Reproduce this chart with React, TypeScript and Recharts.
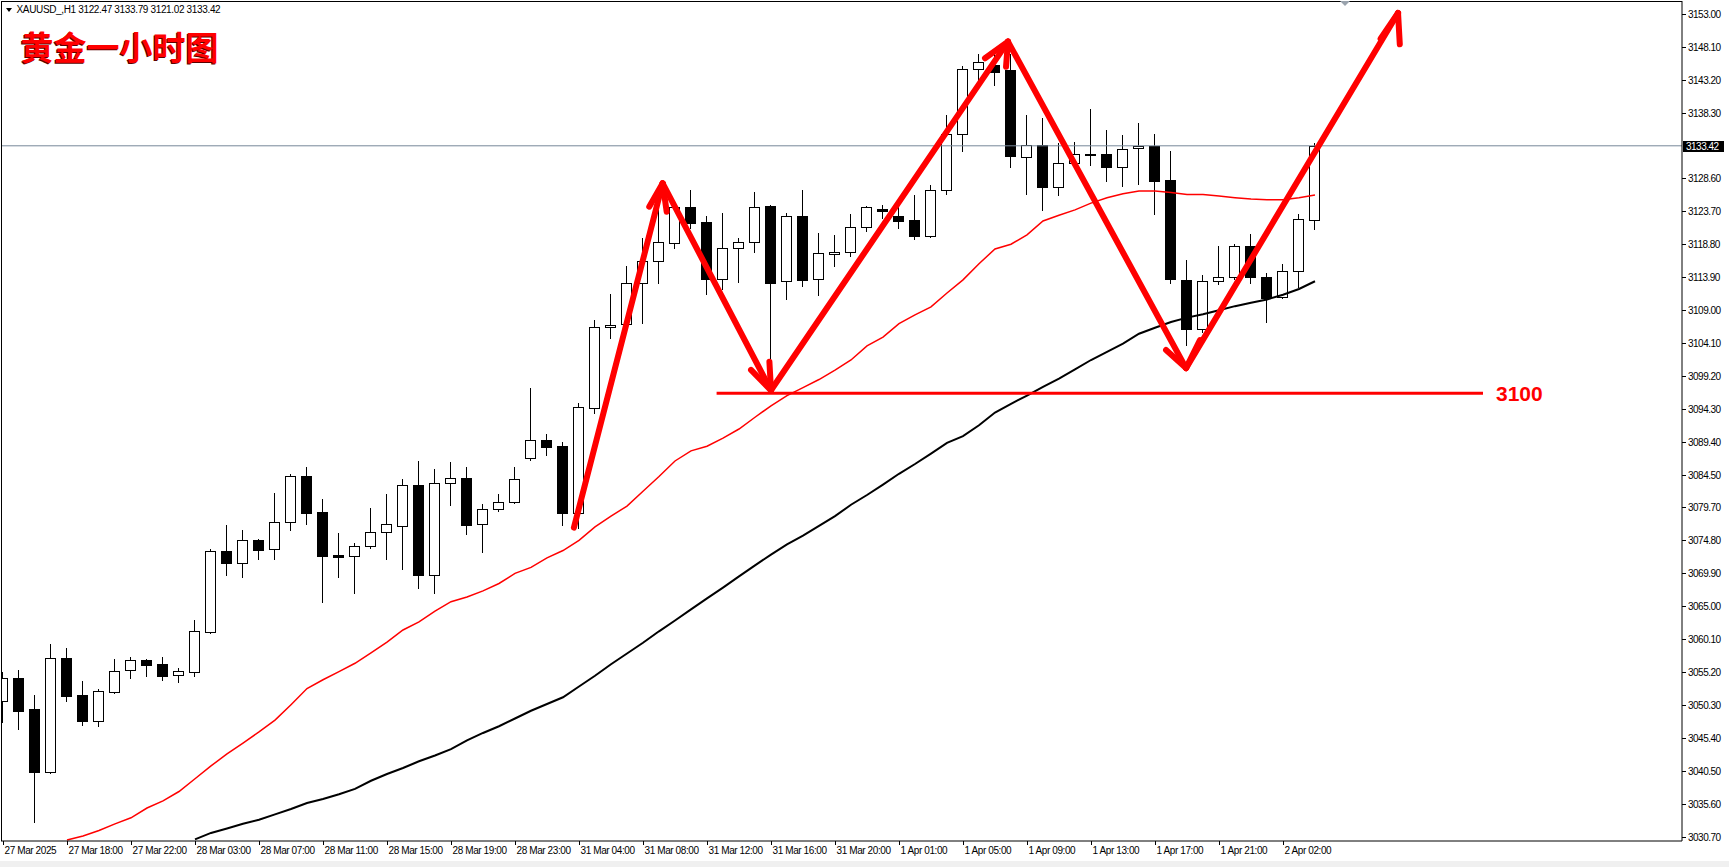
import { Bar, ComposedChart, Line, ReferenceLine, XAxis, YAxis } from 'recharts'

// XAUUSD H1, bars from 27 Mar 14:00 to 2 Apr 02:00+ (index = bar number)
const opens = [
  3051.0, 3054.3, 3049.7, 3040.4, 3057.3, 3051.8, 3048.0, 3052.3, 3055.5, 3057.0,
  3056.4, 3054.8, 3055.2, 3061.25, 3073.3, 3071.5, 3074.8, 3073.6, 3077.5, 3084.4,
  3079.0, 3072.6, 3072.5, 3073.9, 3076.0, 3077.0, 3083.0, 3069.7, 3083.4, 3084.0,
  3077.2, 3079.4, 3080.5, 3087.0, 3089.7, 3088.8, 3078.9, 3094.4, 3106.5, 3106.9,
  3113.1, 3116.3, 3119.0, 3124.4, 3122.05, 3113.6, 3118.3, 3119.2, 3124.5, 3113.3,
  3122.95, 3113.6, 3117.3, 3117.6, 3121.3, 3124.1, 3123.0, 3122.4, 3120.05, 3126.8,
  3135.1, 3144.8, 3145.4, 3144.7, 3131.8, 3133.6, 3127.25, 3130.8, 3132.1, 3132.15,
  3130.2, 3133.05, 3133.4, 3128.3, 3113.5, 3106.15, 3113.3, 3114.0, 3118.5, 3113.9,
  3110.9, 3114.75, 3122.47,
]
const highs = [
  3055.2, 3055.6, 3051.8, 3059.4, 3058.8, 3053.9, 3052.7, 3057.2, 3057.5, 3057.2,
  3057.5, 3055.8, 3063.0, 3073.5, 3077.1, 3076.4, 3075.0, 3081.85, 3084.6, 3085.7,
  3080.9, 3075.9, 3074.4, 3079.6, 3081.65, 3083.9, 3086.6, 3085.4, 3086.5, 3085.7,
  3080.2, 3081.7, 3085.7, 3097.45, 3090.6, 3089.4, 3095.2, 3107.55, 3111.4, 3115.6,
  3119.7, 3124.5, 3124.6, 3126.9, 3123.05, 3123.4, 3119.7, 3126.5, 3124.6, 3123.4,
  3126.9, 3120.4, 3120.2, 3123.3, 3124.5, 3124.6, 3124.5, 3126.1, 3127.6, 3138.0,
  3145.3, 3147.05, 3147.5, 3147.0, 3138.0, 3137.5, 3133.8, 3134.0, 3138.9, 3135.8,
  3135.0, 3136.8, 3135.1, 3132.65, 3116.45, 3114.2, 3118.5, 3118.8, 3120.3, 3114.5,
  3115.8, 3123.3, 3133.79,
]
const lows = [
  3047.9, 3046.8, 3033.0, 3040.3, 3050.9, 3047.4, 3047.3, 3052.2, 3054.4, 3054.6,
  3054.1, 3053.8, 3054.6, 3061.1, 3069.6, 3069.3, 3072.1, 3072.1, 3076.4, 3077.3,
  3065.7, 3069.3, 3067.0, 3073.7, 3072.05, 3070.5, 3067.8, 3067.0, 3080.1, 3075.8,
  3073.1, 3079.2, 3080.4, 3086.75, 3087.5, 3077.1, 3076.6, 3093.8, 3104.8, 3106.5,
  3107.15, 3113.1, 3118.3, 3121.2, 3111.4, 3112.1, 3113.2, 3117.7, 3099.5, 3110.7,
  3112.65, 3111.3, 3115.6, 3117.05, 3120.7, 3122.75, 3121.2, 3119.6, 3119.9, 3126.2,
  3132.7, 3143.2, 3142.4, 3130.3, 3126.3, 3123.9, 3126.1, 3130.4, 3130.55, 3128.2,
  3127.5, 3127.7, 3123.3, 3113.0, 3103.8, 3105.8, 3112.9, 3113.6, 3113.0, 3107.3,
  3110.75, 3112.4, 3121.02,
]
const closes = [
  3054.3, 3049.5, 3040.4, 3057.3, 3051.7, 3048.0, 3052.4, 3055.4, 3057.1, 3056.35,
  3054.7, 3055.4, 3061.3, 3073.3, 3071.5, 3074.8, 3073.4, 3077.5, 3084.3, 3078.9,
  3072.5, 3072.4, 3074.0, 3076.0, 3077.2, 3083.1, 3069.7, 3083.4, 3084.0, 3077.15,
  3079.4, 3080.5, 3083.9, 3089.7, 3088.7, 3078.9, 3094.6, 3106.5, 3106.8, 3113.1,
  3116.3, 3119.1, 3124.4, 3121.9, 3113.7, 3118.3, 3119.2, 3124.4, 3113.1, 3122.95,
  3113.5, 3117.45, 3117.6, 3121.3, 3124.3, 3123.7, 3122.3, 3120.05, 3126.8, 3135.1,
  3144.8, 3145.8, 3144.4, 3131.95, 3133.5, 3127.35, 3130.8, 3132.15, 3132.2, 3130.2,
  3133.0, 3133.35, 3128.2, 3113.6, 3106.15, 3113.3, 3113.9, 3118.5, 3114.0, 3110.75,
  3114.8, 3122.5, 3133.42,
]

// red moving average
const maFast = [
  null, null, null, null, 3030.3, 3030.9, 3031.7, 3032.7, 3033.6, 3035.05,
  3036.1, 3037.5, 3039.4, 3041.3, 3043.1, 3044.7, 3046.35, 3048.1, 3050.4, 3052.8,
  3054.1, 3055.3, 3056.55, 3058.1, 3059.7, 3061.5, 3062.7, 3064.3, 3065.7, 3066.4,
  3067.3, 3068.4, 3069.9, 3070.8, 3072.2, 3073.3, 3074.8, 3076.8, 3078.4, 3079.9,
  3082.1, 3084.3, 3086.6, 3088.1, 3088.8, 3090.0, 3091.35, 3093.1, 3094.8, 3096.3,
  3097.5, 3098.7, 3100.1, 3101.6, 3103.7, 3105.0, 3107.0, 3108.3, 3109.5, 3111.55,
  3113.5, 3115.9, 3118.1, 3118.8, 3120.2, 3122.25, 3123.1, 3123.9, 3124.9, 3125.7,
  3126.3, 3126.7, 3126.7, 3126.5, 3126.2, 3126.2, 3125.95, 3125.7, 3125.5, 3125.4,
  3125.4, 3125.7, 3126.1,
]
// black moving average
const maSlow = [
  null, null, null, null, null, null, null, null, null, null,
  null, null, 3030.4, 3031.35, 3032.0, 3032.7, 3033.3, 3034.1, 3034.9, 3035.8,
  3036.4, 3037.1, 3037.9, 3039.1, 3040.1, 3041.0, 3042.0, 3042.85, 3043.8, 3045.1,
  3046.2, 3047.2, 3048.35, 3049.5, 3050.5, 3051.5, 3053.1, 3054.7, 3056.4, 3058.0,
  3059.6, 3061.3, 3062.9, 3064.55, 3066.2, 3067.8, 3069.45, 3071.1, 3072.7, 3074.2,
  3075.5, 3076.95, 3078.4, 3080.1, 3081.55, 3083.1, 3084.7, 3086.15, 3087.7, 3089.3,
  3090.3, 3091.9, 3093.8, 3095.1, 3096.3, 3097.6, 3098.85, 3100.2, 3101.6, 3102.8,
  3104.05, 3105.5, 3106.4, 3107.25, 3107.9, 3108.4, 3109.0, 3109.6, 3110.1, 3110.6,
  3111.3, 3112.15, 3113.3,
]

const xTicks = [0, 4, 8, 12, 16, 20, 24, 28, 32, 36, 40, 44, 48, 52, 56, 60, 64, 68, 72, 76, 80]
const xLabels = [
  '27 Mar 2025', '27 Mar 18:00', '27 Mar 22:00', '28 Mar 03:00', '28 Mar 07:00', '28 Mar 11:00',
  '28 Mar 15:00', '28 Mar 19:00', '28 Mar 23:00', '31 Mar 04:00', '31 Mar 08:00', '31 Mar 12:00',
  '31 Mar 16:00', '31 Mar 20:00', '1 Apr 01:00', '1 Apr 05:00', '1 Apr 09:00', '1 Apr 13:00',
  '1 Apr 17:00', '1 Apr 21:00', '2 Apr 02:00',
]
const lastPrice = 3133.42
const yTicks = [
  3153.0, 3148.1, 3143.2, 3138.3, lastPrice, 3128.6, 3123.7, 3118.8, 3113.9, 3109.0, 3104.1,
  3099.2, 3094.3, 3089.4, 3084.5, 3079.7, 3074.8, 3069.9, 3065.0, 3060.1, 3055.2, 3050.3,
  3045.4, 3040.5, 3035.6, 3030.7,
]

// hand drawn zigzag, [bar index, price]
const zigzag = [
  [35.68, 3076.69], [41.23, 3127.85], [48.0, 3097.1], [62.81, 3148.9], [73.94, 3100.4], [87.19, 3153.15],
]
const arrowHeads = [
  [[40.39, 3124.37], [41.23, 3127.85], [41.48, 3123.63]],
  [[46.75, 3100.12], [48.0, 3097.1], [47.9, 3101.35]],
  [[61.375, 3146.42], [62.81, 3148.9], [62.69, 3145.17]],
  [[72.69, 3103.09], [73.94, 3100.4], [74.81, 3104.57]],
  [[86.1, 3149.34], [87.19, 3153.15], [87.3, 3148.5]],
]
const supportPrice = 3096.65
const supportFrom = 44.6
const supportTo = 92.5

const rows = closes.map((c, i) => ({
  i,
  o: opens[i],
  h: highs[i],
  l: lows[i],
  c,
  fast: maFast[i],
  slow: maSlow[i],
}))

const axisFont = '"Liberation Sans", Arial, sans-serif'
const PLOT_RIGHT = 1682
const PLOT_BOTTOM = 841

function Candle(props: any) {
  const { x, y, width, height, payload } = props
  const { o, h, l, c } = payload
  const top = Math.min(y, y + height)
  const bot = Math.max(y, y + height)
  const py = (p: number) => (h === l ? top : top + ((h - p) / (h - l)) * (bot - top))
  const cx = Math.floor(x + width / 2) + 0.5
  const bTop = Math.round(py(Math.max(o, c)))
  const bBot = Math.max(Math.round(py(Math.min(o, c))), bTop + 1)
  const up = c >= o
  return (
    <g shapeRendering="crispEdges">
      <line x1={cx} x2={cx} y1={Math.round(top)} y2={Math.round(bot) + 1} stroke="#000" strokeWidth={1} />
      <rect
        x={cx - 5}
        y={bTop + 0.5}
        width={10}
        height={bBot - bTop}
        fill={up ? '#fff' : '#000'}
        stroke="#000"
        strokeWidth={1}
      />
    </g>
  )
}

function TimeTick(props: any) {
  const { x, payload } = props
  const k = xTicks.indexOf(payload.value)
  const tx = Math.round(x) + 0.5
  return (
    <g>
      <line x1={tx} x2={tx} y1={PLOT_BOTTOM} y2={PLOT_BOTTOM + 4} stroke="#000" />
      <text x={tx + 1} y={PLOT_BOTTOM + 13} fontSize={10} fontFamily={axisFont} letterSpacing={-0.4} fill="#000">
        {xLabels[k]}
      </text>
    </g>
  )
}

function PriceTick(props: any) {
  const { y, payload } = props
  const ty = Math.round(y) + 0.5
  if (payload.value === lastPrice) {
    return (
      <g>
        <rect x={PLOT_RIGHT + 1} y={ty - 5.5} width={41} height={11} fill="#000" />
        <text x={PLOT_RIGHT + 4} y={ty + 3.5} fontSize={10} fontFamily={axisFont} letterSpacing={-0.5} fill="#fff">
          {payload.value.toFixed(2)}
        </text>
      </g>
    )
  }
  return (
    <g>
      <line x1={PLOT_RIGHT} x2={PLOT_RIGHT + 4} y1={ty} y2={ty} stroke="#000" />
      <text x={PLOT_RIGHT + 6} y={ty + 3.5} fontSize={10} fontFamily={axisFont} letterSpacing={-0.5} fill="#000">
        {payload.value.toFixed(2)}
      </text>
    </g>
  )
}

const red = '#ff0000'

export default function App() {
  return (
    <div style={{ position: 'absolute', left: 0, top: 0, width: 1729, height: 867, background: '#fff', overflow: 'hidden' }}>
      <ComposedChart width={1729} height={867} data={rows} margin={{ top: 1, right: 0, left: 1, bottom: 0 }}>
        <XAxis
          dataKey="i"
          type="number"
          domain={[-0.125, 104.9375]}
          allowDataOverflow
          ticks={xTicks}
          interval={0}
          height={26}
          tick={<TimeTick />}
          tickLine={false}
          axisLine={{ stroke: '#000' }}
        />
        <YAxis
          orientation="right"
          type="number"
          domain={[3030.15, 3154.93]}
          allowDataOverflow
          ticks={yTicks}
          interval={0}
          width={47}
          tick={<PriceTick />}
          tickLine={false}
          axisLine={{ stroke: '#000' }}
        />
        <ReferenceLine y={lastPrice} stroke="#778899" strokeWidth={1} />
        <Bar dataKey={(d: any) => [d.l, d.h]} barSize={11} shape={<Candle />} isAnimationActive={false} />
        <Line dataKey="fast" type="linear" stroke={red} strokeWidth={1.5} dot={false} isAnimationActive={false} />
        <Line dataKey="slow" type="linear" stroke="#000" strokeWidth={2} dot={false} isAnimationActive={false} />
        <ReferenceLine
          segment={[{ x: supportFrom, y: supportPrice }, { x: supportTo, y: supportPrice }]}
          stroke={red}
          strokeWidth={3}
          ifOverflow="visible"
          label={{ value: '3100', position: 'right', offset: 13, fill: red, fontSize: 21, fontWeight: 'bold', fontFamily: axisFont }}
        />
        {zigzag.slice(1).map((p, k) => (
          <ReferenceLine
            key={'z' + k}
            segment={[{ x: zigzag[k][0], y: zigzag[k][1] }, { x: p[0], y: p[1] }]}
            stroke={red}
            strokeWidth={6}
            strokeLinecap="round"
            ifOverflow="visible"
          />
        ))}
        {arrowHeads.flatMap((hd, k) => [
          <ReferenceLine
            key={'ha' + k}
            segment={[{ x: hd[0][0], y: hd[0][1] }, { x: hd[1][0], y: hd[1][1] }]}
            stroke={red}
            strokeWidth={6}
            strokeLinecap="round"
            ifOverflow="visible"
          />,
          <ReferenceLine
            key={'hb' + k}
            segment={[{ x: hd[2][0], y: hd[2][1] }, { x: hd[1][0], y: hd[1][1] }]}
            stroke={red}
            strokeWidth={6}
            strokeLinecap="round"
            ifOverflow="visible"
          />,
        ])}
      </ComposedChart>
      <div
        style={{
          position: 'absolute', left: 1, top: 1, width: 1681, height: 840,
          borderLeft: '1px solid #000', borderTop: '1px solid #000', boxSizing: 'border-box', pointerEvents: 'none',
        }}
      />
      <div style={{ position: 'absolute', left: 0, top: 861, width: 1729, height: 6, background: '#f0f0f0' }} />
      <svg width={1729} height={80} style={{ position: 'absolute', left: 0, top: 0, pointerEvents: 'none' }}>
        <polygon points="6,8 12,8 9,12" fill="#000" />
        <text x={16.5} y={12.7} fontSize={10} fontFamily={axisFont} letterSpacing={-0.35} fill="#000">
          XAUUSD_,H1  3122.47 3133.79 3121.02 3133.42
        </text>
        <polygon points="1340,1 1350,1 1345,6" fill="#9aa3ad" />
        <text x={19.5} y={60.5} fontSize={33} fontWeight="bold" fontFamily='"Noto Sans CJK SC", sans-serif' fill="#5a0000">
          黄金一小时图
        </text>
        <text x={20.5} y={59.5} fontSize={33} fontWeight="bold" fontFamily='"Noto Sans CJK SC", sans-serif' fill={red}>
          黄金一小时图
        </text>
      </svg>
    </div>
  )
}
